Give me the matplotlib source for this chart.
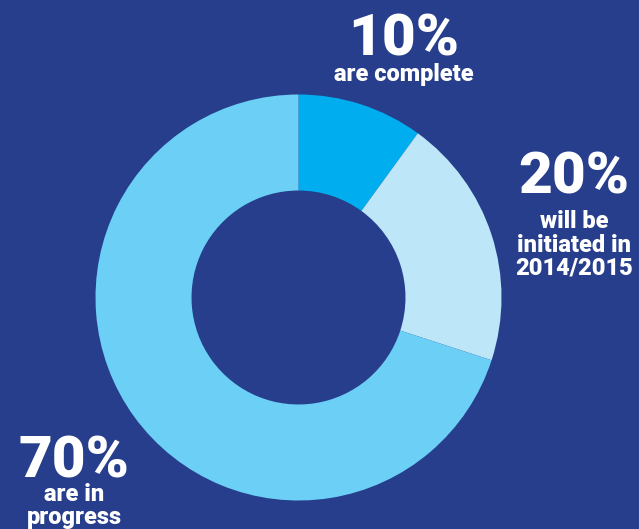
import matplotlib
matplotlib.use("Agg")
from matplotlib import pyplot as plt

# values of the donut, clockwise from the top
labels = ["are complete", "will be\ninitiated in\n2014/2015", "are in\nprogress"]
percents = [10, 20, 70]
colors = ["#00aeef", "#bde6f9", "#6ccff6"]
background = "#263e8c"

W, H = 639, 529
fig = plt.figure(figsize=(W / 100, H / 100), dpi=100)
fig.patch.set_facecolor(background)
ax = fig.add_axes([0, 0, 1, 1])
ax.set_facecolor(background)

cx, cy, R = 298.5, H - 297.5, 203
ax.pie(percents, colors=colors, startangle=90, counterclock=False,
       center=(cx, cy), radius=R,
       wedgeprops=dict(width=R * 0.473, linewidth=0))

ax.set_xlim(0, W)
ax.set_ylim(0, H)
ax.set_aspect("equal")
ax.axis("off")

font = ["Roboto", "DejaVu Sans"]
big = dict(color="white", fontsize=42, fontweight="black", family=font,
           ha="center", va="baseline")
small = dict(color="white", fontsize=17, fontweight="black", family=font,
             ha="center", va="baseline", linespacing=1.02)

# label positions in pixels (x, baseline of big number, baseline of last small line)
spots = [(404, 55, 81), (574, 193, 275), (74, 478, 524)]
for p, lab, (x, yb, ys) in zip(percents, labels, spots):
    ax.text(x, H - yb, f"{p}%", **big)
    ax.text(x, H - ys, lab, **small)

fig.savefig("out.png", dpi=100, facecolor=background)
